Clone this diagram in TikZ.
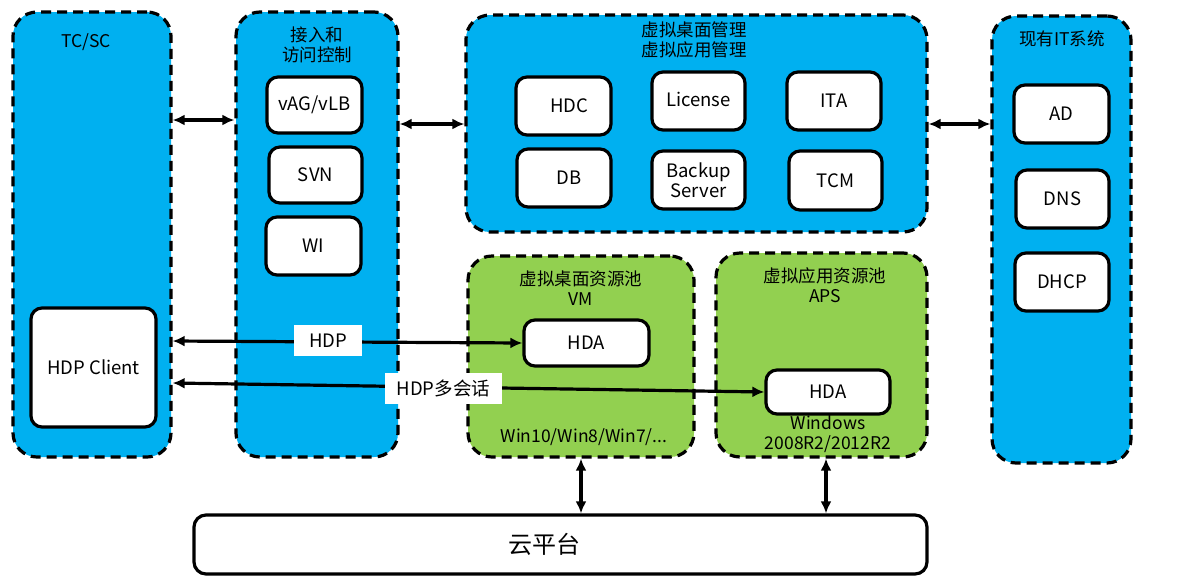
\documentclass[tikz,border=0pt]{standalone}
\usepackage{fontspec}
\setmainfont{Noto Sans CJK SC}
\usetikzlibrary{arrows.meta}
\definecolor{blueF}{HTML}{00B0F0}
\definecolor{greenF}{HTML}{92D050}
\tikzset{
  group/.style={draw=black, line width=3.2pt, dash pattern=on 10pt off 6pt, rounded corners=24pt, inner sep=0pt},
  bluegrp/.style={group, fill=blueF},
  greengrp/.style={group, fill=greenF},
  item/.style={draw=black, line width=3.2pt, rounded corners=11pt, fill=white, inner sep=0pt, align=center, font=\fontsize{18.5}{20}\selectfont},
  ttl/.style={align=center, inner sep=0pt, font=\fontsize{17.5}{20}\selectfont},
  arr/.style={line width=3.2pt, {Latex[length=12pt,width=11pt]}-{Latex[length=12pt,width=11pt]}},
  tag/.style={fill=white, inner sep=0pt, font=\fontsize{18.5}{20}\selectfont},
}
\begin{document}
\begin{tikzpicture}[x=1pt,y=-1pt]
\useasboundingbox (0,0) rectangle (1183,582);
% groups
\node[bluegrp, minimum width=158pt, minimum height=445pt] (tcsc) at (92,234.5) {};
\node[bluegrp, minimum width=162pt, minimum height=445pt] (access) at (317,234.5) {};
\node[bluegrp, minimum width=461pt, minimum height=217pt] (vdm) at (696.5,123.5) {};
\node[bluegrp, minimum width=139pt, minimum height=447pt] (it) at (1061.5,239.5) {};
\node[greengrp, minimum width=226pt, minimum height=201pt] (vm) at (581,356.5) {};
\node[greengrp, minimum width=211pt, minimum height=204pt] (aps) at (821.5,355) {};
% titles
\node[ttl] (tcsct) at (86,42) {TC/SC};
\node[ttl] (accesst) at (317,45) {接入和\\访问控制};
\node[ttl] (vdmt) at (694,40) {虚拟桌面管理\\虚拟应用管理};
\node[ttl] (itt) at (1062,39) {现有IT系统};
\node[ttl] (vmt) at (581,288) {虚拟桌面资源池\\VM};
\node[ttl] (apst) at (825,285) {虚拟应用资源池\\APS};
\node[ttl] (vmos) at (584,437) {Win10/Win8/Win7/...};
\node[ttl] (apsos) at (828,434) {Windows\\2008R2/2012R2};
% items
\node[item, minimum width=125pt, minimum height=119pt] (client) at (93.5,367.5) {HDP Client};
\node[item, minimum width=95pt, minimum height=56pt] (vag) at (314.5,105) {vAG/vLB};
\node[item, minimum width=93pt, minimum height=56pt] (svn) at (315.5,175) {SVN};
\node[item, minimum width=95pt, minimum height=58pt] (wi) at (313.5,246) {WI};
\node[item, minimum width=95pt, minimum height=58pt] (hdc) at (563.5,106) {\hspace*{12pt}HDC};
\node[item, minimum width=93pt, minimum height=58pt] (license) at (698.5,101) {\raisebox{3pt}{License}};
\node[item, minimum width=94pt, minimum height=58pt] (ita) at (834,101) {ITA};
\node[item, minimum width=94pt, minimum height=58pt] (db) at (564,178) {\hspace*{10pt}DB};
\node[item, minimum width=93pt, minimum height=58pt] (backup) at (698.5,180) {Backup\\Server};
\node[item, minimum width=93pt, minimum height=59pt] (tcm) at (835.5,180.5) {TCM};
\node[item, minimum width=95pt, minimum height=58pt] (ad) at (1061.5,114) {AD};
\node[item, minimum width=93pt, minimum height=58pt] (dns) at (1062.5,199) {DNS};
\node[item, minimum width=94pt, minimum height=58pt] (dhcp) at (1062,282) {DHCP};
\node[item, minimum width=125pt, minimum height=46pt] (hda1) at (586.5,343) {HDA};
\node[item, minimum width=124pt, minimum height=44pt] (hda2) at (828,392) {HDA};
\node[item, minimum width=733pt, minimum height=59pt, rounded corners=12pt, font=\fontsize{24}{26}\selectfont] (cloud) at (560.5,544.5) {\hspace*{-32pt}云平台};
% connectors
\draw[arr] (tcsc.east |- 0,120) -- (access.west |- 0,120);
\draw[arr] (access.east |- 0,124) -- (vdm.west |- 0,124);
\draw[arr] (vdm.east |- 0,124) -- (it.west |- 0,124);
\draw[arr] (tcsc.east |- 0,341) -- (hda1.west);
\draw[arr] (tcsc.east |- 0,383) -- (hda2.west);
\draw[arr] (vm.south) -- (cloud.north -| vm.south);
\draw[arr] (aps.south -| 826,0) -- (cloud.north -| 826,0);
% connector labels
\node[tag, minimum width=68pt, minimum height=31pt] (hdpl) at (328,340.5) {HDP};
\node[tag, minimum width=117pt, minimum height=31pt] (hdpml) at (443.5,388.5) {HDP多会话};
\end{tikzpicture}
\end{document}
